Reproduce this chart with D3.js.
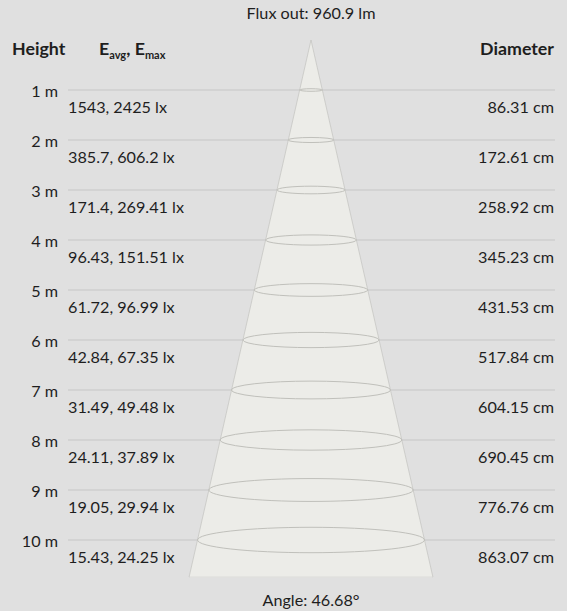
<!DOCTYPE html>
<html>
<head>
<meta charset="utf-8">
<script src="https://cdn.jsdelivr.net/npm/d3@7"></script>
<style>
  body { margin: 0; background: #e0e0e0; }
  text { font-family: Lato, "Open Sans", sans-serif; fill: #1e1e1e; }
</style>
</head>
<body>
<div id="chart"></div>
<script>
const heights = [1, 2, 3, 4, 5, 6, 7, 8, 9, 10];
const eAvg = ["1543", "385.7", "171.4", "96.43", "61.72", "42.84", "31.49", "24.11", "19.05", "15.43"];
const eMax = ["2425", "606.2", "269.41", "151.51", "96.99", "67.35", "49.48", "37.89", "29.94", "24.25"];
const diameters = ["86.31", "172.61", "258.92", "345.23", "431.53", "517.84", "604.15", "690.45", "776.76", "863.07"];
const fluxOut = "960.9 lm";
const angle = "46.68°";

const width = 567, height = 611;
const CONE_COLOR = "#ecece8";
const LINE_COLOR = "#c6c6c6";
const FS = "16.2px";

const svg = d3.select("#chart").append("svg")
    .attr("width", width)
    .attr("height", height);

svg.append("rect").attr("width", width).attr("height", height).attr("fill", "#e0e0e0");

// height in metres -> y pixel
const y = d3.scaleLinear().domain([0, 10]).range([40, 540]);
// half width of the cone (drawn, not to scale)
const cx = 311;
const halfW = d3.scaleLinear().domain([0, 10]).range([0, 113.5]);
const bottom = 10.74;

// grid lines
svg.append("g")
   .selectAll("line")
   .data(heights)
   .enter()
   .append("line")
   .attr("x1", 68).attr("x2", 555)
   .attr("y1", d => y(d)).attr("y2", d => y(d))
   .attr("stroke", LINE_COLOR)
   .attr("stroke-width", 1);

// cone
svg.append("path")
   .attr("d", `M${cx},${y(0)} L${cx + halfW(bottom)},${y(bottom)} L${cx - halfW(bottom)},${y(bottom)} Z`)
   .attr("fill", CONE_COLOR)
   .attr("stroke", "#bcbcb8")
   .attr("stroke-width", 0.6);
// hide the stroke along the bottom edge
svg.append("line")
   .attr("x1", cx - halfW(bottom) + 0.5).attr("x2", cx + halfW(bottom) - 0.5)
   .attr("y1", y(bottom)).attr("y2", y(bottom))
   .attr("stroke", CONE_COLOR).attr("stroke-width", 1.2);

// ellipses
svg.append("g")
   .selectAll("ellipse")
   .data(heights)
   .enter()
   .append("ellipse")
   .attr("cx", cx)
   .attr("cy", d => y(d))
   .attr("rx", d => halfW(d))
   .attr("ry", d => halfW(d) * 0.112)
   .attr("fill", "none")
   .attr("stroke", "#c0c0bb")
   .attr("stroke-width", 1);

// header
svg.append("text").attr("x", cx).attr("y", 19).attr("text-anchor", "middle")
   .style("font-size", FS).text("Flux out: " + fluxOut);
svg.append("text").attr("x", 12).attr("y", 55)
   .style("font-size", "17.8px").style("font-weight", "bold").text("Height");
const eh = svg.append("text").attr("x", 99).attr("y", 55)
   .style("font-size", "17.8px").style("font-weight", "bold");
eh.append("tspan").text("E");
eh.append("tspan").attr("dy", 4).style("font-size", "11px").text("avg");
eh.append("tspan").attr("dy", -4).text(", E");
eh.append("tspan").attr("dy", 4).style("font-size", "11px").text("max");
svg.append("text").attr("x", 554).attr("y", 55).attr("text-anchor", "end")
   .style("font-size", "17.8px").style("font-weight", "bold").text("Diameter");

// row labels
const rows = svg.append("g").selectAll("g").data(heights).enter().append("g");
rows.append("text")
    .attr("x", 58).attr("y", d => y(d) + 6.5)
    .attr("text-anchor", "end")
    .style("font-size", FS)
    .text(d => d + " m");
rows.append("text")
    .attr("x", 68).attr("y", d => y(d) + 22.5)
    .style("font-size", FS)
    .text((d, i) => eAvg[i] + ", " + eMax[i] + " lx");
rows.append("text")
    .attr("x", 554).attr("y", d => y(d) + 22.5)
    .attr("text-anchor", "end")
    .style("font-size", FS)
    .text((d, i) => diameters[i] + " cm");

svg.append("text").attr("x", cx).attr("y", 606).attr("text-anchor", "middle")
   .style("font-size", FS).text("Angle: " + angle);
</script>
</body>
</html>
